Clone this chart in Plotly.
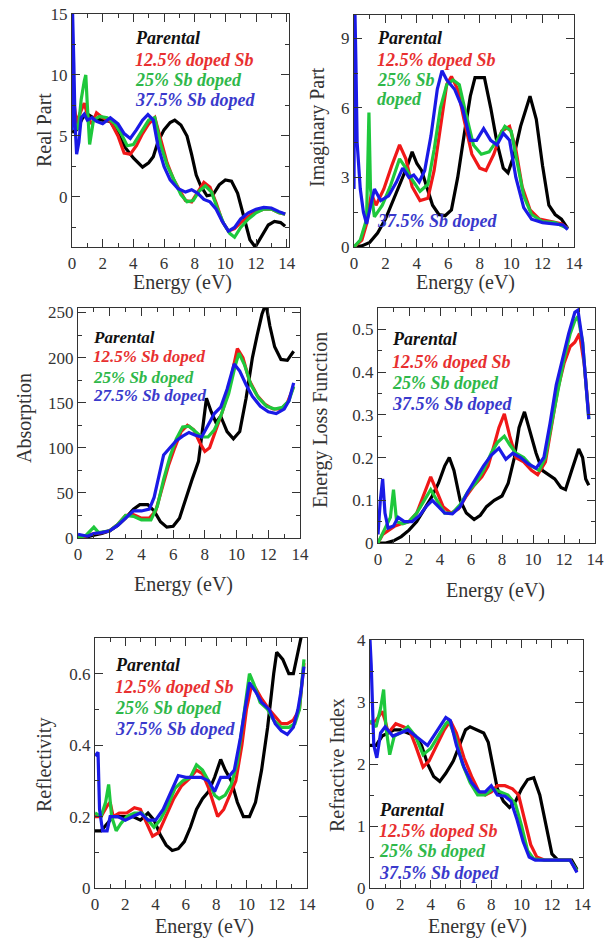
import plotly.graph_objects as go

W, H = 615, 939
FONT = "Liberation Serif, Times New Roman, Times, serif"

# ---------------- data (Energy in eV) ----------------
# Panel 1: Real part
re_par_e = [0, 0.3, 0.7, 1.0, 1.5, 2.0, 2.5, 3.0, 3.5, 4.0, 4.6, 5.0, 5.3, 5.6, 6.0, 6.4, 6.7, 7.1, 7.5, 7.8, 8.1, 8.4, 8.8, 9.2, 9.6, 10.0, 10.4, 10.8, 11.2, 11.6, 11.95, 12.3, 12.8, 13.2, 13.6, 13.9]
re_par_v = [5.3, 5.5, 6.5, 6.8, 6.4, 6.3, 6.2, 5.2, 4.0, 3.2, 2.45, 2.8, 3.3, 4.5, 5.5, 6.1, 6.3, 5.9, 5.0, 3.5, 1.8, 0.9, 0.1, 0.2, 1.0, 1.4, 1.3, 0.3, -1.5, -3.5, -4.1, -3.4, -2.3, -2.0, -2.1, -2.4]
re_r12_e = [0, 0.15, 0.3, 0.5, 0.8, 1.1, 1.3, 1.6, 2.0, 2.5, 3.0, 3.4, 3.8, 4.2, 4.6, 5.0, 5.4, 5.8, 6.2, 6.6, 7.0, 7.4, 7.8, 8.2, 8.6, 9.0, 9.4, 9.8, 10.2, 10.6, 11.0, 11.5, 12.0, 12.5, 13.0, 13.5, 13.9]
re_r12_v = [7.0, 7.5, 6.0, 6.8, 7.7, 6.3, 6.0, 6.9, 6.5, 6.2, 5.0, 3.6, 3.5, 4.2, 5.2, 6.0, 6.5, 4.6, 2.8, 1.5, 0.6, -0.3, -0.4, 0.4, 1.2, 0.8, -0.5, -2.0, -2.8, -2.6, -2.1, -1.6, -1.2, -1.0, -1.0, -1.3, -1.4]
re_r25_e = [0, 0.2, 0.4, 0.6, 0.8, 0.9, 1.0, 1.15, 1.4, 1.8, 2.3, 2.8, 3.2, 3.6, 4.0, 4.5, 5.0, 5.4, 5.8, 6.2, 6.7, 7.1, 7.5, 7.9, 8.3, 8.7, 9.1, 9.5, 9.9, 10.3, 10.6, 11.0, 11.5, 12.0, 12.5, 13.0, 13.5, 13.9]
re_r25_v = [7.0, 6.0, 5.5, 8.0, 9.5, 10.0, 7.5, 4.3, 6.3, 6.6, 6.5, 6.0, 5.2, 4.2, 4.3, 5.3, 6.3, 6.5, 4.2, 2.6, 1.2, 0.2, -0.4, -0.3, 0.5, 0.9, 0.4, -1.0, -2.2, -3.0, -3.3, -2.5, -1.8, -1.3, -1.0, -1.0, -1.3, -1.4]
re_r37_e = [0, 0.04, 0.12, 0.2, 0.3, 0.45, 0.6, 0.8, 1.0, 1.3, 1.6, 2.0, 2.5, 3.0, 3.4, 3.8, 4.2, 4.6, 4.95, 5.3, 5.6, 6.0, 6.4, 6.9, 7.4, 7.8, 8.2, 8.6, 9.0, 9.4, 9.8, 10.2, 10.6, 11.0, 11.5, 12.0, 12.5, 13.0, 13.5, 13.9]
re_r37_v = [5.5, 15.0, 11.0, 6.0, 3.5, 4.5, 6.5, 6.8, 6.3, 6.5, 6.2, 6.0, 6.5, 6.0, 5.2, 4.8, 5.5, 6.3, 6.75, 6.3, 4.2, 2.5, 1.4, 0.7, 0.4, 0.6, 0.3, -0.2, -0.4, -1.0, -2.0, -2.8, -2.5, -1.8, -1.3, -1.0, -0.85, -0.9, -1.2, -1.4]

# Panel 2: Imaginary part
im_par_e = [0, 0.5, 1.0, 1.5, 2.0, 2.5, 3.0, 3.4, 3.7, 4.0, 4.3, 4.7, 5.0, 5.4, 5.8, 6.2, 6.6, 7.0, 7.4, 7.7, 8.3, 8.7, 9.1, 9.5, 9.8, 10.2, 10.6, 11.2, 11.6, 12.0, 12.4, 12.8, 13.2, 13.6]
im_par_v = [0, 0.05, 0.2, 0.6, 1.2, 2.0, 2.8, 3.5, 4.1, 3.6, 3.3, 2.5, 1.8, 1.4, 1.35, 1.6, 3.0, 4.8, 6.5, 7.3, 7.3, 6.0, 4.5, 3.4, 3.2, 4.0, 5.2, 6.5, 5.5, 3.5, 1.8, 1.4, 1.2, 0.8]
im_r12_e = [0, 0.5, 0.8, 1.1, 1.4, 1.9, 2.4, 2.9, 3.3, 3.7, 4.2, 4.7, 5.1, 5.5, 5.9, 6.2, 6.6, 7.0, 7.5, 8.0, 8.4, 8.9, 9.4, 9.9, 10.3, 10.7, 11.2, 11.8, 12.5, 13.2, 13.6]
im_r12_v = [0, 0.3, 1.0, 2.3, 1.8, 2.5, 3.5, 4.4, 3.8, 2.6, 2.0, 2.1, 3.3, 5.2, 7.0, 7.35, 6.8, 5.5, 4.0, 3.4, 3.3, 4.0, 5.0, 5.2, 4.2, 2.6, 1.6, 1.2, 1.1, 1.0, 0.8]
im_r25_e = [0, 0.4, 0.8, 0.95, 1.05, 1.3, 1.8, 2.3, 2.9, 3.3, 3.7, 4.2, 4.7, 5.1, 5.5, 5.9, 6.3, 6.7, 7.1, 7.6, 8.1, 8.6, 9.1, 9.6, 10.0, 10.4, 10.8, 11.3, 12.0, 12.8, 13.6]
im_r25_v = [0, 0.3, 1.2, 5.8, 2.5, 1.3, 1.8, 2.6, 3.8, 3.4, 2.9, 2.4, 2.7, 4.2, 6.0, 7.0, 7.2, 7.0, 5.8, 4.4, 4.0, 4.1, 4.6, 5.2, 5.0, 3.6, 2.2, 1.4, 1.1, 1.05, 0.8]
im_r37_e = [0, 0.05, 0.12, 0.2, 0.4, 0.6, 0.8, 1.0, 1.3, 1.7, 2.2, 2.7, 3.1, 3.5, 3.8, 4.15, 4.5, 4.9, 5.3, 5.6, 5.9, 6.4, 6.9, 7.4, 7.8, 8.25, 8.7, 9.1, 9.5, 9.9, 10.3, 10.8, 11.3, 12.0, 12.8, 13.3, 13.6]
im_r37_v = [2.5, 10.5, 8.0, 4.5, 2.5, 1.5, 1.0, 1.6, 2.5, 2.0, 2.2, 2.8, 3.4, 3.0, 3.1, 2.8, 3.3, 4.8, 6.8, 7.6, 7.2, 6.8, 6.0, 4.6, 4.6, 5.1, 4.6, 4.4, 4.9, 4.6, 3.0, 1.7, 1.2, 1.05, 1.0, 0.95, 0.75]

# Panel 3: Absorption
ab_par_e = [0, 0.5, 1.0, 1.5, 2.0, 2.5, 3.0, 3.5, 3.9, 4.4, 4.8, 5.2, 5.6, 6.0, 6.4, 6.8, 7.2, 7.6, 7.9, 8.1, 8.4, 8.7, 9.0, 9.4, 9.8, 10.2, 10.6, 11.0, 11.3, 11.6, 11.85, 12.1, 12.4, 12.8, 13.2, 13.6]
ab_par_v = [0, 1, 3, 5, 8, 14, 22, 32, 37, 37, 30, 18, 12, 13, 22, 45, 65, 85, 130, 155, 140, 128, 135, 118, 110, 118, 155, 200, 225, 248, 260, 235, 212, 198, 197, 207]
ab_r12_e = [0, 0.5, 1.0, 1.5, 2.0, 2.5, 3.0, 3.5, 4.0, 4.5, 4.9, 5.3, 5.7, 6.1, 6.5, 6.9, 7.3, 7.7, 8.0, 8.3, 8.7, 9.1, 9.5, 9.8, 10.05, 10.4, 10.8, 11.3, 11.8, 12.3, 12.8, 13.2, 13.6]
ab_r12_v = [0, 2, 5, 6, 8, 15, 25, 26, 22, 22, 30, 55, 80, 100, 118, 125, 120, 105, 96, 100, 120, 140, 165, 190, 210, 200, 175, 158, 148, 143, 143, 150, 168]
ab_r25_e = [0, 0.5, 1.0, 1.3, 2.0, 2.5, 3.0, 3.5, 4.0, 4.6, 5.0, 5.4, 5.8, 6.2, 6.6, 7.0, 7.4, 7.8, 8.2, 8.6, 9.0, 9.5, 9.9, 10.15, 10.5, 10.9, 11.4, 11.9, 12.4, 12.9, 13.3, 13.6]
ab_r25_v = [0, 3, 12, 6, 8, 15, 25, 24, 20, 20, 35, 65, 90, 110, 123, 124, 118, 112, 112, 120, 135, 160, 190, 205, 192, 170, 155, 146, 143, 145, 152, 168]
ab_r37_e = [0, 0.3, 0.6, 1.0, 1.5, 2.0, 2.5, 3.0, 3.5, 4.0, 4.5, 4.8, 5.1, 5.4, 5.8, 6.2, 6.6, 7.0, 7.4, 7.8, 8.2, 8.6, 9.0, 9.4, 9.85, 10.2, 10.6, 11.0, 11.5, 12.0, 12.5, 13.0, 13.3, 13.6]
ab_r37_v = [4, 3, 2, 5, 6, 8, 14, 22, 30, 30, 32, 45, 70, 92, 100, 108, 113, 117, 114, 112, 125, 138, 145, 165, 193, 185, 170, 157, 146, 140, 138, 143, 152, 172]

# Panel 4: Energy loss function
el_par_e = [0, 0.5, 1.0, 1.5, 2.0, 2.5, 3.0, 3.5, 3.9, 4.3, 4.6, 4.9, 5.3, 5.7, 6.2, 6.6, 7.0, 7.5, 8.0, 8.4, 8.8, 9.1, 9.45, 9.8, 10.2, 10.6, 11.0, 11.4, 11.8, 12.1, 12.5, 12.95, 13.2, 13.4, 13.6]
el_par_v = [0, 0, 0.005, 0.015, 0.03, 0.05, 0.08, 0.11, 0.14, 0.18, 0.2, 0.17, 0.1, 0.07, 0.055, 0.065, 0.085, 0.1, 0.11, 0.14, 0.2, 0.27, 0.307, 0.26, 0.21, 0.17, 0.16, 0.15, 0.13, 0.125, 0.17, 0.22, 0.2, 0.15, 0.135]
el_r12_e = [0, 0.3, 0.7, 1.1, 1.5, 2.0, 2.5, 3.0, 3.4, 3.8, 4.2, 4.7, 5.2, 5.7, 6.2, 6.7, 7.1, 7.5, 7.8, 8.15, 8.5, 8.9, 9.4, 9.9, 10.3, 10.8, 11.2, 11.6, 12.0, 12.4, 12.7, 13.0, 13.3, 13.6]
el_r12_v = [0, 0.02, 0.03, 0.04, 0.045, 0.05, 0.07, 0.12, 0.155, 0.12, 0.085, 0.07, 0.08, 0.11, 0.135, 0.155, 0.18, 0.23, 0.27, 0.302, 0.25, 0.2, 0.19, 0.17, 0.16, 0.19, 0.28, 0.36, 0.42, 0.46, 0.47, 0.49, 0.42, 0.3]
el_r25_e = [0, 0.4, 0.8, 1.0, 1.2, 1.6, 2.0, 2.5, 3.0, 3.4, 3.8, 4.3, 4.8, 5.3, 5.8, 6.3, 6.8, 7.3, 7.7, 8.15, 8.5, 8.9, 9.4, 9.9, 10.4, 10.8, 11.2, 11.6, 12.0, 12.4, 12.7, 12.9, 13.2, 13.6]
el_r25_v = [0, 0.03, 0.06, 0.125, 0.05, 0.045, 0.05, 0.07, 0.1, 0.125, 0.1, 0.07, 0.07, 0.09, 0.12, 0.14, 0.17, 0.21, 0.235, 0.25, 0.23, 0.21, 0.2, 0.18, 0.17, 0.2, 0.28, 0.36, 0.43, 0.49, 0.52, 0.53, 0.47, 0.29]
el_r37_e = [0, 0.15, 0.3, 0.45, 0.65, 1.0, 1.3, 1.7, 2.2, 2.7, 3.1, 3.5, 3.9, 4.3, 4.8, 5.3, 5.8, 6.3, 6.8, 7.3, 7.8, 8.25, 8.7, 9.2, 9.7, 10.2, 10.7, 11.1, 11.5, 11.9, 12.3, 12.7, 12.9, 13.2, 13.4, 13.6]
el_r37_v = [0.02, 0.1, 0.15, 0.07, 0.035, 0.04, 0.06, 0.05, 0.05, 0.065, 0.085, 0.1, 0.085, 0.07, 0.068, 0.085, 0.12, 0.15, 0.18, 0.205, 0.222, 0.196, 0.21, 0.2, 0.185, 0.175, 0.2, 0.28, 0.37, 0.43, 0.49, 0.54, 0.545, 0.47, 0.38, 0.29]

# Panel 5: Reflectivity
rf_par_e = [0, 0.4, 0.8, 1.2, 1.8, 2.5, 3.0, 3.5, 3.9, 4.3, 4.7, 5.1, 5.5, 5.9, 6.3, 6.7, 7.1, 7.5, 7.9, 8.3, 8.6, 9.0, 9.4, 9.8, 10.2, 10.6, 11.0, 11.4, 11.8, 12.0, 12.4, 12.8, 13.1, 13.4, 13.8]
rf_par_v = [0.16, 0.16, 0.18, 0.2, 0.2, 0.2, 0.19, 0.21, 0.19, 0.15, 0.12, 0.105, 0.11, 0.13, 0.17, 0.22, 0.25, 0.27, 0.31, 0.36, 0.33, 0.3, 0.24, 0.2, 0.2, 0.24, 0.33, 0.45, 0.6, 0.66, 0.64, 0.6, 0.6, 0.66, 0.74]
rf_r12_e = [0, 0.4, 0.8, 1.0, 1.2, 1.6, 2.1, 2.6, 3.0, 3.4, 3.8, 4.2, 4.7, 5.2, 5.7, 6.2, 6.7, 7.1, 7.5, 7.8, 8.1, 8.5, 8.9, 9.3, 9.7, 10.0, 10.3, 10.6, 11.0, 11.5, 11.9, 12.3, 12.7, 13.1, 13.5, 13.8]
rf_r12_v = [0.2, 0.2, 0.23, 0.24, 0.2, 0.21, 0.21, 0.225, 0.22, 0.18, 0.145, 0.155, 0.2, 0.25, 0.285, 0.305, 0.33, 0.32, 0.28, 0.24, 0.2, 0.22, 0.26, 0.3, 0.4, 0.5, 0.56, 0.56, 0.53, 0.5, 0.48, 0.46, 0.46, 0.47, 0.5, 0.63]
rf_r25_e = [0, 0.4, 0.7, 0.9, 1.1, 1.4, 1.7, 2.1, 2.6, 3.1, 3.5, 3.9, 4.3, 4.8, 5.3, 5.8, 6.3, 6.7, 7.1, 7.5, 7.9, 8.2, 8.6, 9.0, 9.4, 9.8, 10.2, 10.5, 10.9, 11.4, 11.8, 12.3, 12.8, 13.2, 13.5, 13.8]
rf_r25_v = [0.21, 0.2, 0.24, 0.29, 0.2, 0.16, 0.18, 0.2, 0.21, 0.21, 0.19, 0.17, 0.19, 0.23, 0.28, 0.3, 0.31, 0.345, 0.33, 0.3, 0.26, 0.25, 0.26, 0.29, 0.35, 0.48, 0.6, 0.57, 0.52, 0.5, 0.47, 0.45, 0.45, 0.46, 0.5, 0.64]
rf_r37_e = [0, 0.2, 0.3, 0.5, 0.8, 1.0, 1.5, 2.0, 2.5, 3.0, 3.5, 4.0, 4.5, 5.0, 5.5, 6.0, 6.5, 7.0, 7.5, 7.9, 8.3, 8.8, 9.2, 9.6, 9.9, 10.2, 10.6, 11.0, 11.5, 11.9, 12.3, 12.7, 13.1, 13.4, 13.6, 13.8]
rf_r37_v = [0.37, 0.38, 0.22, 0.16, 0.16, 0.2, 0.2, 0.19, 0.2, 0.21, 0.19, 0.19, 0.22, 0.27, 0.315, 0.31, 0.31, 0.31, 0.3, 0.27, 0.31, 0.31, 0.33, 0.42, 0.5, 0.575, 0.55, 0.52, 0.5, 0.46, 0.44, 0.43, 0.45, 0.5, 0.55, 0.62]

# Panel 6: Refractive index
ri_par_e = [0, 0.4, 0.8, 1.2, 1.6, 2.0, 2.5, 3.0, 3.4, 3.8, 4.2, 4.6, 5.0, 5.5, 5.9, 6.3, 6.6, 7.0, 7.5, 7.8, 8.1, 8.4, 8.8, 9.2, 9.6, 10.0, 10.4, 10.8, 11.2, 11.6, 12.0, 12.4, 12.9, 13.3, 13.65]
ri_par_v = [2.3, 2.3, 2.45, 2.5, 2.55, 2.55, 2.5, 2.45, 2.3, 2.0, 1.8, 1.72, 1.85, 2.05, 2.3, 2.55, 2.6, 2.55, 2.5, 2.35, 2.0, 1.6, 1.4, 1.3, 1.4, 1.6, 1.75, 1.78, 1.5, 1.05, 0.55, 0.45, 0.45, 0.45, 0.3]
ri_r12_e = [0, 0.4, 0.8, 1.0, 1.2, 1.7, 2.2, 2.6, 3.0, 3.5, 3.9, 4.4, 4.9, 5.3, 5.7, 6.2, 6.7, 7.2, 7.6, 8.0, 8.4, 8.9, 9.4, 9.8, 10.2, 10.6, 11.0, 11.5, 12.5, 13.2, 13.65]
ri_r12_v = [2.65, 2.7, 2.85, 2.7, 2.5, 2.65, 2.6, 2.55, 2.3, 1.95, 2.05, 2.3, 2.55, 2.7, 2.5, 2.1, 1.8, 1.55, 1.5, 1.55, 1.65, 1.65, 1.6, 1.5, 1.1, 0.7, 0.5, 0.45, 0.45, 0.45, 0.27]
ri_r25_e = [0, 0.4, 0.7, 0.9, 1.05, 1.3, 1.6, 2.0, 2.5, 3.0, 3.5, 4.0, 4.5, 5.0, 5.2, 5.6, 6.1, 6.6, 7.1, 7.6, 8.1, 8.6, 9.1, 9.6, 10.0, 10.4, 10.8, 11.5, 12.5, 13.2, 13.65]
ri_r25_v = [2.7, 2.6, 2.9, 3.2, 2.6, 2.15, 2.45, 2.5, 2.6, 2.45, 2.15, 2.25, 2.45, 2.65, 2.7, 2.45, 2.0, 1.7, 1.5, 1.5, 1.6, 1.55, 1.5, 1.35, 1.0, 0.6, 0.47, 0.45, 0.45, 0.45, 0.28]
ri_r37_e = [0, 0.08, 0.25, 0.45, 0.7, 1.0, 1.5, 2.0, 2.5, 3.0, 3.5, 3.8, 4.2, 4.6, 5.0, 5.3, 5.7, 6.2, 6.7, 7.2, 7.6, 8.0, 8.4, 8.9, 9.3, 9.7, 10.1, 10.5, 10.9, 11.5, 12.5, 13.2, 13.65]
ri_r37_v = [4.0, 3.6, 2.3, 2.1, 2.5, 2.6, 2.45, 2.5, 2.55, 2.45, 2.35, 2.3, 2.45, 2.6, 2.75, 2.7, 2.3, 1.95, 1.7, 1.55, 1.55, 1.65, 1.5, 1.48, 1.4, 1.1, 0.75, 0.5, 0.45, 0.45, 0.45, 0.45, 0.25]

# Labels
x_title = "Energy (eV)"
y_titles = ["Real Part", "Imaginary Part", "Absorption", "Energy Loss Function", "Reflectivity", "Refractive Index"]
legend_p1 = ["Parental", "12.5% doped Sb", "25% Sb doped", "37.5% Sb doped"]
legend_p2 = ["Parental", "12.5% doped Sb", "25% Sb", "doped", "37.5% Sb doped"]
legend_p3 = ["Parental", "12.5% Sb doped", "25% Sb doped", "27.5% Sb doped"]
legend_p4 = ["Parental", "12.5% doped Sb", "25% Sb doped", "37.5% Sb doped"]
legend_p5 = ["Parental", "12.5% doped Sb", "25% Sb doped", "37.5% Sb doped"]
legend_p6 = ["Parental", "12.5% doped Sb", "25% Sb doped", "37.5% Sb doped"]
series_names = ["Parental", "12.5% Sb", "25% Sb", "37.5% Sb"]

COLORS = ["#000000", "#f01818", "#1ec83c", "#1a1ae6"]
TXT_COLORS = ["#111111", "#e83030", "#2fb84a", "#3a3acc"]

panels = [
    dict(data=[(re_par_e, re_par_v), (re_r12_e, re_r12_v), (re_r25_e, re_r25_v), (re_r37_e, re_r37_v)],
         box=(72, 289, 14, 247), xr=[0, 14.15], yr=[-4.1, 15], dt=5, mdt=2.5,
         ytitle=(44, 130), xtitle=(182, 283)),
    dict(data=[(im_par_e, im_par_v), (im_r12_e, im_r12_v), (im_r25_e, im_r25_v), (im_r37_e, im_r37_v)],
         box=(354, 574, 15, 247), xr=[0, 14], yr=[0, 10], dt=3, mdt=1.5,
         ytitle=(317, 127), xtitle=(465, 282)),
    dict(data=[(ab_par_e, ab_par_v), (ab_r12_e, ab_r12_v), (ab_r25_e, ab_r25_v), (ab_r37_e, ab_r37_v)],
         box=(78, 300, 308, 538), xr=[0, 14], yr=[0, 255], dt=50, mdt=25,
         ytitle=(25, 418), xtitle=(183, 584)),
    dict(data=[(el_par_e, el_par_v), (el_r12_e, el_r12_v), (el_r25_e, el_r25_v), (el_r37_e, el_r37_v)],
         box=(378, 595, 308, 543), xr=[0, 14], yr=[0, 0.55], dt=0.1, mdt=0.05,
         ytitle=(320, 420), xtitle=(495, 590)),
    dict(data=[(rf_par_e, rf_par_v), (rf_r12_e, rf_r12_v), (rf_r25_e, rf_r25_v), (rf_r37_e, rf_r37_v)],
         box=(95, 307, 638, 888), xr=[0, 14], yr=[0, 0.7], dt=0.2, mdt=0.1,
         ytitle=(44, 765), xtitle=(204, 926)),
    dict(data=[(ri_par_e, ri_par_v), (ri_r12_e, ri_r12_v), (ri_r25_e, ri_r25_v), (ri_r37_e, ri_r37_v)],
         box=(370, 583, 640, 888), xr=[0, 14.05], yr=[0, 4], dt=1, mdt=0.5,
         ytitle=(337, 765), xtitle=(477, 926)),
]

# legend text placement: (x_left_px, [y_px...], labels, color indices, font size)
legend_specs = [
    (133, [38, 60, 80, 100], legend_p1, [0, 1, 2, 3], 18),
    (375, [38, 60, 80, 99, 221], legend_p2, [0, 1, 2, 2, 3], 18),
    (91, [337, 357, 377, 396], legend_p3, [0, 1, 2, 3], 17),
    (390, [339, 362, 383, 404], legend_p4, [0, 1, 2, 3], 18),
    (113, [665, 687, 708, 729], legend_p5, [0, 1, 2, 3], 18),
    (377, [810, 831, 851, 873], legend_p6, [0, 1, 2, 3], 18),
]

fig = go.Figure()
annotations = []

for i, p in enumerate(panels):
    k = "" if i == 0 else str(i + 1)
    xa, ya = "x" + k, "y" + k
    for j, (ex, vy) in enumerate(p["data"]):
        fig.add_trace(go.Scatter(x=ex, y=vy, mode="lines", name=series_names[j],
                                 line=dict(color=COLORS[j], width=3.2),
                                 xaxis=xa, yaxis=ya, showlegend=False))
    x0, x1, y0, y1 = p["box"]
    common = dict(showline=True, linecolor="#333333", linewidth=1.2, mirror="allticks",
                  ticks="inside", ticklen=8, tickwidth=1.2, tickcolor="#333333",
                  showgrid=False, zeroline=False,
                  tickfont=dict(family=FONT, size=17, color="#333333"))
    fig.layout["xaxis" + k] = dict(domain=[x0 / W, x1 / W], range=p["xr"], anchor=ya,
                                   tick0=0, dtick=2,
                                   minor=dict(dtick=1, ticks="inside", ticklen=4, tickcolor="#333333", tickwidth=1.2),
                                   ticklabelstandoff=0, **common)
    fig.layout["yaxis" + k] = dict(domain=[1 - y1 / H, 1 - y0 / H], range=p["yr"], anchor=xa,
                                   tick0=0, dtick=p["dt"],
                                   minor=dict(dtick=p["mdt"], tick0=0, ticks="inside", ticklen=4, tickcolor="#333333", tickwidth=1.2),
                                   **common)
    tx, ty = p["xtitle"]
    annotations.append(dict(text=x_title, x=tx / W, y=1 - ty / H, xref="paper", yref="paper",
                            showarrow=False, xanchor="center", yanchor="middle",
                            font=dict(family=FONT, size=20, color="#333333")))
    yx, yy = p["ytitle"]
    annotations.append(dict(text=y_titles[i], x=yx / W, y=1 - yy / H, xref="paper", yref="paper",
                            showarrow=False, xanchor="center", yanchor="middle", textangle=-90,
                            font=dict(family=FONT, size=20, color="#333333")))

for lx, lys, labels, cidx, fs in legend_specs:
    for ly, lab, c in zip(lys, labels, cidx):
        annotations.append(dict(text="<b><i>" + lab + "</i></b>", x=lx / W, y=1 - ly / H,
                                xref="paper", yref="paper", showarrow=False,
                                xanchor="left", yanchor="middle",
                                font=dict(family=FONT, size=fs, color=TXT_COLORS[c])))

fig.update_layout(width=W, height=H, autosize=False,
                  margin=dict(l=0, r=0, t=0, b=0, autoexpand=False),
                  paper_bgcolor="white", plot_bgcolor="white",
                  font=dict(family=FONT),
                  annotations=annotations, showlegend=False)

fig.write_html("out.html", config=dict(displayModeBar=False),
               post_script="document.body.style.margin='0';document.body.style.padding='0';")
